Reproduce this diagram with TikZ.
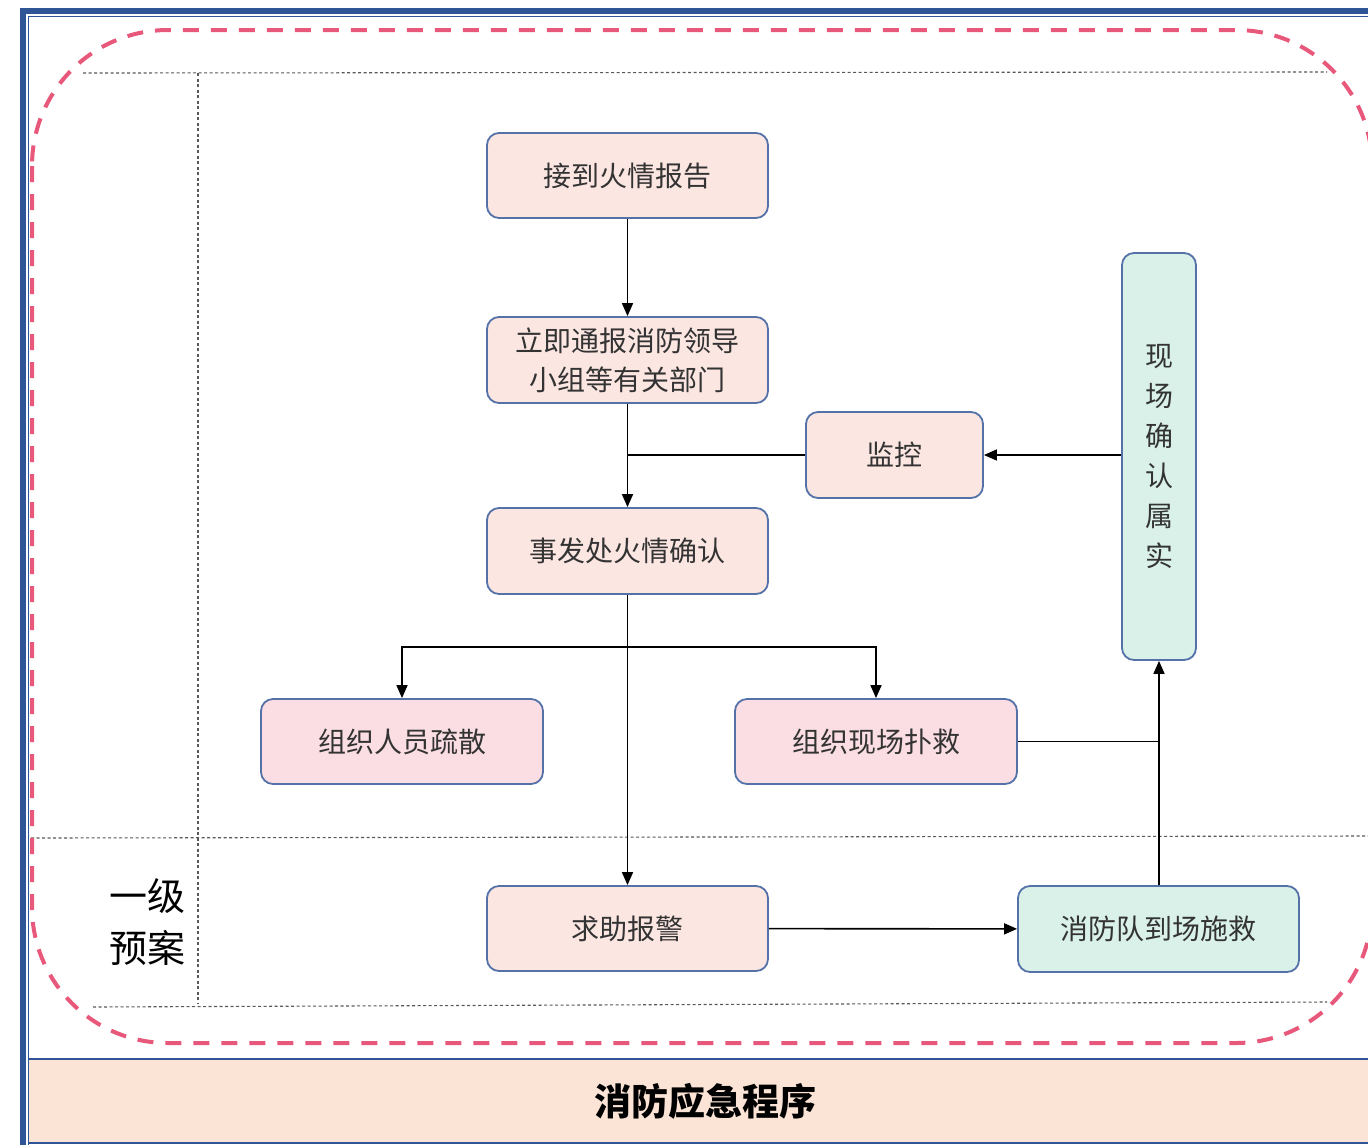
\documentclass[tikz,border=0pt]{standalone}
\usepackage{fontspec}
\setmainfont{Noto Sans CJK SC}
\newfontfamily\cjk{Noto Sans CJK SC}
\usetikzlibrary{arrows.meta}
\definecolor{frameblue}{HTML}{2F5597}
\definecolor{boxline}{HTML}{5472A8}
\definecolor{peachbox}{HTML}{FBE6E2}
\definecolor{pinkbox}{HTML}{FADEE4}
\definecolor{greenbox}{HTML}{D9F1E8}
\definecolor{bandfill}{HTML}{FBE4D6}
\definecolor{reddash}{HTML}{E8587A}
\definecolor{txt}{HTML}{333333}
\tikzset{
  box/.style={draw=boxline, line width=1.8pt, rounded corners=12pt, inner sep=0pt,
    text=txt, font=\cjk\fontsize{28}{39}\selectfont, align=center},
  peach/.style={box, fill=peachbox},
  pink/.style={box, fill=pinkbox},
  green/.style={box, fill=greenbox},
  conn/.style={line width=1.6pt, draw=black},
  arr/.style={conn, -{Triangle[length=13pt,width=11pt]}},
  grid/.style={draw=black!65, line width=1.1pt, dash pattern=on 3pt off 2.5pt},
}
\begin{document}
\begin{tikzpicture}[x=1pt,y=-1pt]
\useasboundingbox (0,0) rectangle (1368,1144);
% outer frame
\fill[white] (0,0) rectangle (1368,1144);
\fill[frameblue] (20,8) rectangle (1400,14);
\fill[frameblue] (20,8) rectangle (26,1150);
\draw[frameblue, line width=1.3pt] (28.5,1150) -- (28.5,16.5) -- (1400,16.5);
% bottom band
\fill[bandfill] (29,1059) rectangle (1400,1143);
\draw[frameblue, line width=1.2pt] (29,1059) -- (1400,1059);
\draw[frameblue, line width=1.2pt] (29,1143) -- (1400,1143);
\node[font=\cjk\bfseries\fontsize{37}{40}\selectfont, text=black] (title) at (705,1101) {消防应急程序};
% inner dotted grid
\draw[grid] (83,73) -- (1327,72);
\draw[grid] (198,73) -- (198,1004);
\draw[grid] (31,838) -- (1368,836);
\draw[grid] (93,1007) -- (1327,1002);
% red dashed rounded frame
\draw[reddash, line width=4pt, dash pattern=on 16pt off 12pt, rounded corners=136pt] (32,30) rectangle (1372,1043);
% level label
\node[font=\cjk\fontsize{38}{52}\selectfont, text=black, align=center] (lvl) at (147,922) {一级\\预案};
% nodes
\node[peach, minimum width=281pt, minimum height=85pt] (n1) at (627.5,175.5) {\raisebox{-3pt}{接到火情报告}};
\node[peach, minimum width=281pt, minimum height=86pt] (n2) at (627.5,360) {立即通报消防领导\\小组等有关部门};
\node[peach, minimum width=281pt, minimum height=86pt] (n3) at (627.5,551) {\raisebox{-3pt}{事发处火情确认}};
\node[peach, minimum width=177pt, minimum height=86pt] (jk) at (894.5,455) {\raisebox{-3pt}{监控}};
\node[green, minimum width=74pt, minimum height=407pt, font=\cjk\fontsize{28}{40}\selectfont] (qr) at (1159,456.5) {现\\场\\确\\认\\属\\实};
\node[pink, minimum width=282pt, minimum height=85pt] (ss) at (402,741.5) {\raisebox{-3pt}{组织人员疏散}};
\node[pink, minimum width=282pt, minimum height=85pt] (pj) at (876,741.5) {\raisebox{-3pt}{组织现场扑救}};
\node[peach, minimum width=281pt, minimum height=85pt] (bj) at (627.5,928.5) {\raisebox{-3pt}{求助报警}};
\node[green, minimum width=281pt, minimum height=86pt] (xf) at (1158.5,929) {\raisebox{-3pt}{消防队到场施救}};
% connectors
\coordinate (j1) at (n2.south |- jk.west);
\coordinate (j2) at (627.5,647);
\draw[arr] (n1) -- (n2);
\draw[arr] (n2) -- (n3);
\draw[conn] (jk.west) -- (j1);
\draw[arr] (qr.west |- jk.east) -- (jk.east);
\draw[arr] (n3) -- (bj);
\draw[arr] (j2) -| (ss.north);
\draw[arr] (j2) -| (pj.north);
\draw[conn] (pj.east) -- (pj.east -| qr.south);
\draw[arr] (xf.north -| qr.south) -- (qr.south);
\draw[arr] (bj) -- (xf);
\end{tikzpicture}
\end{document}
